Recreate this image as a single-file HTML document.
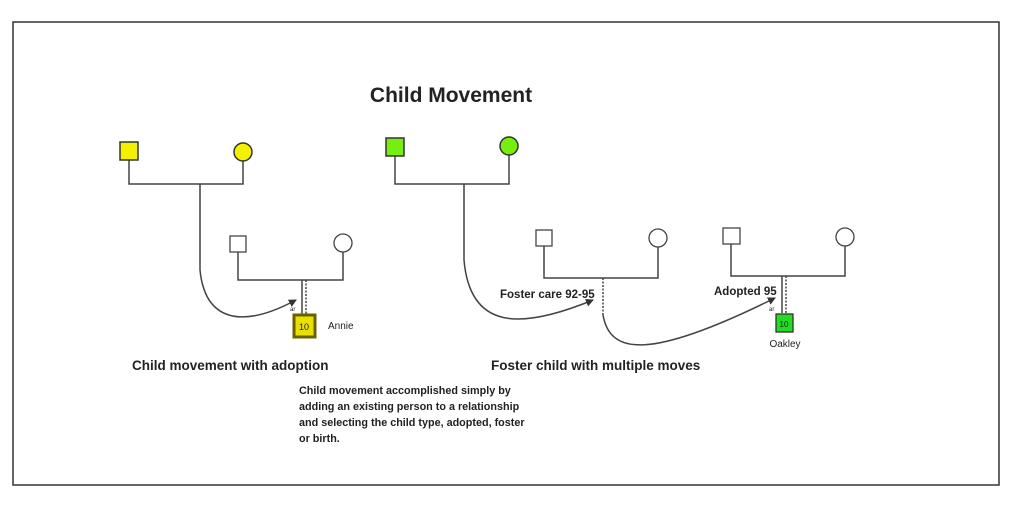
<!DOCTYPE html>
<html><head><meta charset="utf-8"><style>
body{margin:0;background:#fff;}
svg{display:block;}
text{font-family:"Liberation Sans",sans-serif;fill:#222;}
</style></head><body>
<svg width="1022" height="515" viewBox="0 0 1022 515" xmlns="http://www.w3.org/2000/svg">
<defs><marker id="ar" markerWidth="8" markerHeight="8" refX="7" refY="4" orient="auto" markerUnits="userSpaceOnUse"><path d="M0,0 L8,4 L0,8 z" fill="#333"/></marker></defs>
<rect x="13" y="22" width="986" height="463" fill="#fff" stroke="#333" stroke-width="1.5"/>
<text x="451" y="102" font-size="21" font-weight="bold" text-anchor="middle">Child Movement</text>
<g stroke="#444" stroke-width="1.5" fill="none">
<polyline points="129,160 129,184 243,184 243,161"/>
<path d="M200,184 L200,270 C205,320 240,330 296,300" marker-end="url(#ar)"/>
<polyline points="238,252 238,280 343,280 343,252"/>
<line x1="302" y1="280" x2="302" y2="315"/>
<line x1="306" y1="280" x2="306" y2="315" stroke-dasharray="2,1.5"/>
<polyline points="395,156 395,184 509,184 509,155"/>
<path d="M464,184 L464,260 C470,330 520,330 593,300" marker-end="url(#ar)"/>
<polyline points="544,246 544,278 658,278 658,247"/>
<line x1="603" y1="278" x2="603" y2="315" stroke-dasharray="2,1.5"/>
<path d="M603,315 C610,355 650,360 775,298" marker-end="url(#ar)"/>
<polyline points="731,244 731,276 845,276 845,246"/>
<line x1="782" y1="276" x2="782" y2="313"/>
<line x1="786" y1="276" x2="786" y2="313" stroke-dasharray="2,1.5"/>
</g>
<g stroke="#333" stroke-width="1.5">
<rect x="120" y="142" width="18" height="18" fill="#f5f000"/>
<circle cx="243" cy="152" r="9" fill="#f5f000"/>
<rect x="386" y="138" width="18" height="18" fill="#77ee11"/>
<circle cx="509" cy="146" r="9" fill="#77ee11"/>
</g>
<g stroke="#444" stroke-width="1.3" fill="#fff">
<rect x="230" y="236" width="16" height="16"/>
<circle cx="343" cy="243" r="9"/>
<rect x="536" y="230" width="16" height="16"/>
<circle cx="658" cy="238" r="9"/>
<rect x="723" y="228" width="17" height="16"/>
<circle cx="845" cy="237" r="9"/>
</g>
<rect x="294" y="315" width="21" height="22" fill="#e8e000" stroke="#6b6000" stroke-width="3"/>
<text x="304" y="330" font-size="9" text-anchor="middle">10</text>
<rect x="776" y="314" width="17" height="18" fill="#22dd22" stroke="#333" stroke-width="1.3"/>
<text x="784" y="327" font-size="8" text-anchor="middle">10</text>
<text x="290" y="311" font-size="6">ar</text>
<text x="769" y="311" font-size="6">ar</text>
<text x="328" y="329" font-size="10">Annie</text>
<text x="785" y="347" font-size="10" text-anchor="middle">Oakley</text>
<text x="500" y="298" font-size="11.5" font-weight="bold">Foster care 92-95</text>
<text x="714" y="295" font-size="11.5" font-weight="bold">Adopted 95</text>
<text x="132" y="370" font-size="13.5" font-weight="bold">Child movement with adoption</text>
<text x="491" y="370" font-size="13.5" font-weight="bold">Foster child with multiple moves</text>
<g font-size="10.8" font-weight="bold">
<text x="299" y="394">Child movement accomplished simply by</text>
<text x="299" y="410">adding an existing person to a relationship</text>
<text x="299" y="426">and selecting the child type, adopted, foster</text>
<text x="299" y="442">or birth.</text>
</g>
</svg>
</body></html>
